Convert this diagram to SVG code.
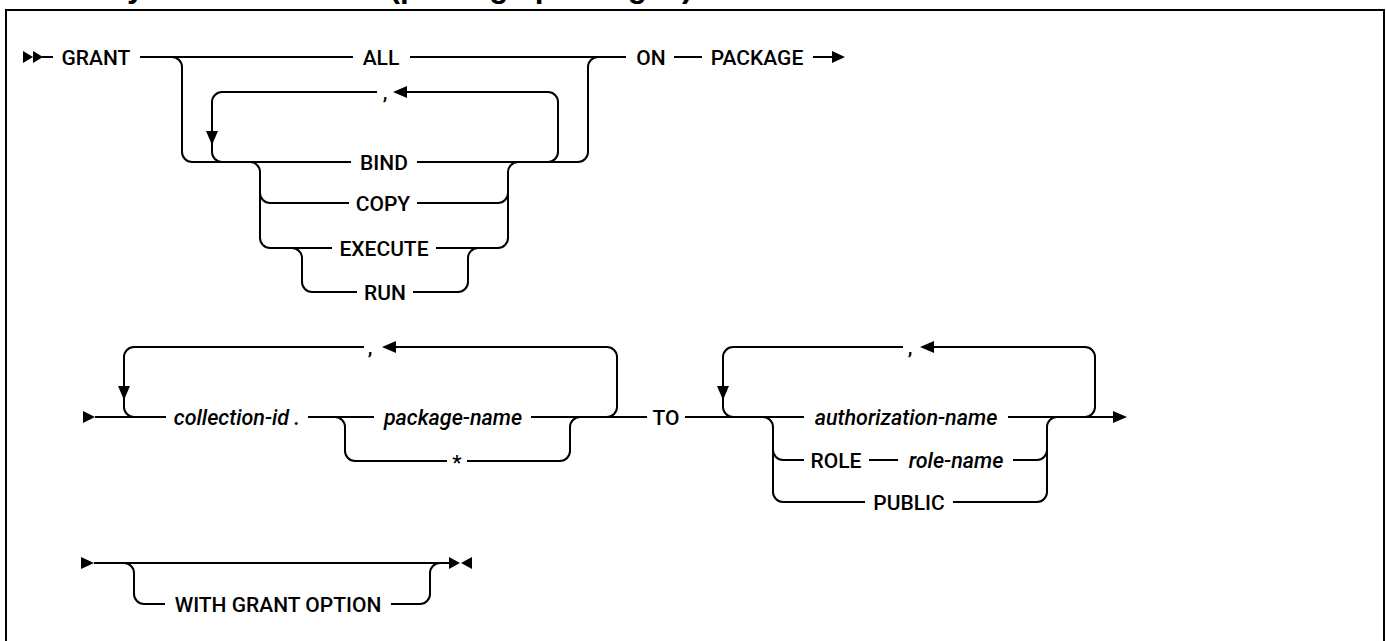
<svg xmlns="http://www.w3.org/2000/svg" width="1386" height="641" viewBox="0 0 1386 641">
<style>
.ln{fill:none;stroke:#000;stroke-width:2}
.ah{fill:#000;stroke:none}
.kw{font-family:Roboto,"Liberation Sans",Arial,sans-serif;font-size:21px;font-weight:500;text-anchor:middle;fill:#000}
.var{font-style:italic;font-size:21.5px}
.title{font-family:"Liberation Sans",Arial,sans-serif;font-size:31.5px;font-weight:bold;fill:#000}
</style>
<rect x="0" y="0" width="1386" height="641" fill="#fff"/>
<g id="title"><text class="title" x="106" y="-3">Syntax for GRANT (package privileges)</text></g>
<g id="frame"><rect x="6" y="10" width="1378" height="700" fill="none" stroke="#000" stroke-width="2"/></g>

<g id="connectors">
  <!-- row 1 -->
  <polygon class="ah" points="23,51 23,63 33,57"/>
  <polygon class="ah" points="33,51 33,63 43,57"/>
  <path class="ln" d="M42,57 H53"/>
  <path class="ln" d="M140,57 H353"/>
  <path class="ln" d="M410,57 H626"/>
  <path class="ln" d="M674,57 H702"/>
  <path class="ln" d="M813,57 H834"/>
  <polygon class="ah" points="832,51 832,63 845,57"/>
  <!-- outer choice ALL / list -->
  <path class="ln" d="M172,57 A10,10 0 0 1 182,67 V152 A10,10 0 0 0 192,162"/>
  <path class="ln" d="M578,162 A10,10 0 0 0 588,152 V67 A10,10 0 0 1 598,57"/>
  <!-- repeat loop -->
  <path class="ln" d="M548,162 A10,10 0 0 0 558,152 V102 A10,10 0 0 0 548,92 H406"/>
  <polygon class="ah" points="407,86 407,98 393,92"/>
  <path class="ln" d="M377,92 H222 A10,10 0 0 0 212,102 V152 A10,10 0 0 0 222,162"/>
  <polygon class="ah" points="206,131 218,131 212,145"/>
  <!-- BIND line -->
  <path class="ln" d="M192,162 H351"/>
  <path class="ln" d="M417,162 H578"/>
  <!-- inner choice -->
  <path class="ln" d="M250,162 A10,10 0 0 1 260,172 V238 A10,10 0 0 0 270,248"/>
  <path class="ln" d="M260,193 A10,10 0 0 0 270,203"/>
  <path class="ln" d="M498,248 A10,10 0 0 0 508,238 V172 A10,10 0 0 1 518,162"/>
  <path class="ln" d="M498,203 A10,10 0 0 0 508,193"/>
  <path class="ln" d="M270,203 H349"/>
  <path class="ln" d="M417,203 H498"/>
  <path class="ln" d="M270,248 H332"/>
  <path class="ln" d="M436,248 H498"/>
  <path class="ln" d="M292,248 A10,10 0 0 1 302,258 V282 A10,10 0 0 0 312,292 H357"/>
  <path class="ln" d="M413,292 H458 A10,10 0 0 0 468,282 V258 A10,10 0 0 1 478,248"/>

  <!-- row 2 -->
  <polygon class="ah" points="83,411 83,423 95,417"/>
  <path class="ln" d="M95,417 H166"/>
  <path class="ln" d="M308,417 H374"/>
  <path class="ln" d="M531,417 H647"/>
  <path class="ln" d="M685,417 H804"/>
  <path class="ln" d="M1008,417 H1114"/>
  <polygon class="ah" points="1113,411 1113,423 1127,417"/>
  <!-- loop 1 -->
  <path class="ln" d="M607,417 A10,10 0 0 0 617,407 V357 A10,10 0 0 0 607,347 H395"/>
  <polygon class="ah" points="396,341 396,353 382,347"/>
  <path class="ln" d="M364,347 H134 A10,10 0 0 0 124,357 V407 A10,10 0 0 0 134,417"/>
  <polygon class="ah" points="118,386 130,386 124,400"/>
  <!-- package-name / * choice -->
  <path class="ln" d="M335,417 A10,10 0 0 1 345,427 V451 A10,10 0 0 0 355,461 H447"/>
  <path class="ln" d="M467,461 H560 A10,10 0 0 0 570,451 V427 A10,10 0 0 1 580,417"/>
  <!-- loop 2 -->
  <path class="ln" d="M1085,417 A10,10 0 0 0 1095,407 V357 A10,10 0 0 0 1085,347 H933"/>
  <polygon class="ah" points="934,341 934,353 920,347"/>
  <path class="ln" d="M903,347 H733 A10,10 0 0 0 723,357 V407 A10,10 0 0 0 733,417"/>
  <polygon class="ah" points="717,386 729,386 723,400"/>
  <!-- grantee choice -->
  <path class="ln" d="M763,417 A10,10 0 0 1 773,427 V492 A10,10 0 0 0 783,502 H865"/>
  <path class="ln" d="M953,502 H1037 A10,10 0 0 0 1047,492 V427 A10,10 0 0 1 1057,417"/>
  <path class="ln" d="M773,450 A10,10 0 0 0 783,460 H804"/>
  <path class="ln" d="M869,460 H898"/>
  <path class="ln" d="M1013,460 H1037 A10,10 0 0 0 1047,450"/>

  <!-- row 3 -->
  <polygon class="ah" points="81,557 81,569 94,563"/>
  <path class="ln" d="M94,563 H451"/>
  <polygon class="ah" points="449,557 449,569 460,563"/>
  <polygon class="ah" points="472,557 472,569 461,563"/>
  <path class="ln" d="M124,563 A10,10 0 0 1 134,573 V594 A10,10 0 0 0 144,604 H165"/>
  <path class="ln" d="M391,604 H420 A10,10 0 0 0 430,594 V573 A10,10 0 0 1 440,563"/>
</g>

<g id="n-grant"><text class="kw" x="96" y="64.5">GRANT</text></g>
<g id="n-all"><text class="kw" x="381" y="64.5">ALL</text></g>
<g id="n-comma1"><text class="kw" x="385" y="99">,</text></g>
<g id="n-bind"><text class="kw" x="384" y="169.5">BIND</text></g>
<g id="n-copy"><text class="kw" x="383" y="210.5">COPY</text></g>
<g id="n-execute"><text class="kw" x="384" y="255.5">EXECUTE</text></g>
<g id="n-run"><text class="kw" x="385" y="299.5">RUN</text></g>
<g id="n-on"><text class="kw" x="651" y="64.5">ON</text></g>
<g id="n-package"><text class="kw" x="757" y="64.5">PACKAGE</text></g>

<g id="n-collection"><text class="kw var" x="237" y="424.5">collection-id .</text></g>
<g id="n-comma2"><text class="kw" x="370" y="354">,</text></g>
<g id="n-package-name"><text class="kw var" x="453" y="424.5">package-name</text></g>
<g id="n-star"><text class="kw" x="457" y="470">*</text></g>
<g id="n-to"><text class="kw" x="666" y="424.5">TO</text></g>
<g id="n-comma3"><text class="kw" x="910" y="354">,</text></g>
<g id="n-authorization"><text class="kw var" x="906" y="424.5">authorization-name</text></g>
<g id="n-role"><text class="kw" x="836" y="467.5">ROLE</text></g>
<g id="n-role-name"><text class="kw var" x="956" y="467.5">role-name</text></g>
<g id="n-public"><text class="kw" x="909" y="509.5">PUBLIC</text></g>

<g id="n-with-grant-option"><text class="kw" x="278" y="611.5">WITH GRANT OPTION</text></g>
</svg>
